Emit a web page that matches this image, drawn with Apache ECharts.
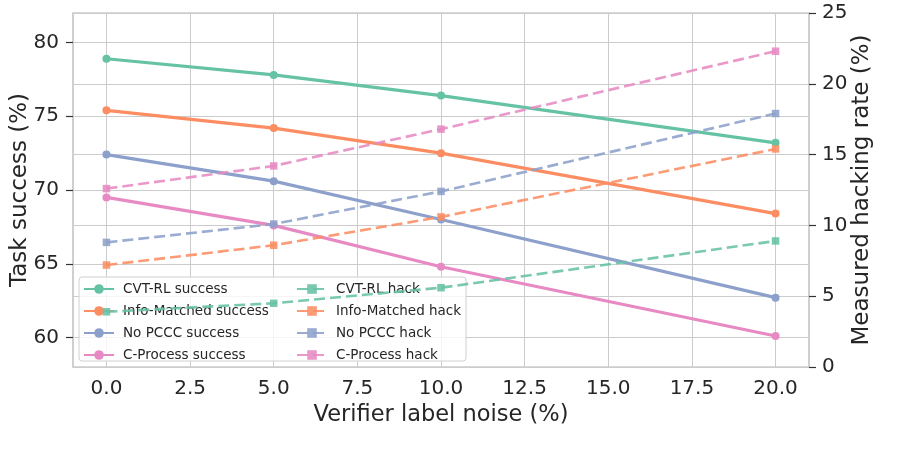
<html>
<head>
<meta charset="utf-8">
<script src="https://cdn.jsdelivr.net/npm/echarts@6/dist/echarts.min.js"></script>
<style>
  html, body { margin: 0; padding: 0; background: #fff; }
  #main { width: 908px; height: 462px; }
</style>
</head>
<body>
<div id="main"></div>
<script>
// noise levels (%)
var noise = [0, 5, 10, 20];

// task success (%), left axis
var cvtSuccess = [78.9, 77.8, 76.4, 73.2];
var infoSuccess = [75.4, 74.2, 72.5, 68.4];
var noPcccSuccess = [72.4, 70.6, 68.0, 62.7];
var cprocSuccess = [69.5, 67.6, 64.8, 60.1];

// measured hacking rate (%), right axis
var cvtHack = [3.9, 4.5, 5.6, 8.9];
var infoHack = [7.2, 8.6, 10.6, 15.4];
var noPcccHack = [8.8, 10.1, 12.4, 17.9];
var cprocHack = [12.6, 14.2, 16.8, 22.3];

var xTicks = [0, 2.5, 5, 7.5, 10, 12.5, 15, 17.5, 20];
var leftTicks = [60, 65, 70, 75, 80];

var successNames = ['CVT-RL success', 'Info-Matched success', 'No PCCC success', 'C-Process success'];
var hackNames = ['CVT-RL hack', 'Info-Matched hack', 'No PCCC hack', 'C-Process hack'];
var colors = ['#66c2a5', '#fc8d62', '#8da0cb', '#e78ac3'];

var FONT = '"DejaVu Sans", sans-serif';
var TEXT = '#262626';
var GRID = '#cccccc';

function pairs(ys) {
    return noise.map(function (x, i) { return [x, ys[i]]; });
}

function successSeries(name, ys, color) {
    return {
        name: name,
        type: 'line',
        yAxisIndex: 0,
        data: pairs(ys),
        symbol: 'circle',
        symbolSize: 8,
        z: 2,
        lineStyle: { color: color, width: 3.2 },
        itemStyle: { color: color }
    };
}

function hackSeries(name, ys, color) {
    return {
        name: name,
        type: 'line',
        yAxisIndex: 1,
        data: pairs(ys),
        symbol: 'rect',
        symbolSize: 7.5,
        z: 5,
        lineStyle: { color: color, width: 2.6, type: [11, 5], opacity: 0.88 },
        itemStyle: { color: color, opacity: 0.88 }
    };
}

var series = [];
for (var i = 0; i < 4; i++) {
    series.push(successSeries(successNames[i], [cvtSuccess, infoSuccess, noPcccSuccess, cprocSuccess][i], colors[i]));
}
for (var j = 0; j < 4; j++) {
    series.push(hackSeries(hackNames[j], [cvtHack, infoHack, noPcccHack, cprocHack][j], colors[j]));
}

var chart = echarts.init(document.getElementById('main'), null, { renderer: 'canvas' });

var legendBase = {
    orient: 'vertical',
    top: 282,
    padding: 0,
    itemWidth: 30,
    itemHeight: 12,
    itemGap: 8,
    z: 4,
    textStyle: { fontFamily: FONT, fontSize: 13.5, color: TEXT, padding: [0, 0, 0, 4] }
};

chart.setOption({
    animation: false,
    color: colors,
    grid: {
        left: 73, right: 99, top: 13, bottom: 95,
        outerBoundsMode: 'none',
        containLabel: false,
        show: true,
        borderColor: GRID,
        borderWidth: 1.5,
        backgroundColor: 'transparent'
    },
    graphic: [{
        type: 'rect',
        z: 3,
        shape: { x: 79, y: 277, width: 387, height: 84, r: 3 },
        style: { fill: 'rgba(255,255,255,0.8)', stroke: '#d0d0d0', lineWidth: 1 }
    }],
    legend: [
        Object.assign({}, legendBase, { left: 83, data: successNames }),
        Object.assign({}, legendBase, { left: 296, data: hackNames })
    ],
    xAxis: {
        type: 'value',
        min: -1,
        max: 21,
        name: 'Verifier label noise (%)',
        nameLocation: 'middle',
        nameGap: 37,
        nameMoveOverlap: false,
        nameTextStyle: { fontFamily: FONT, fontSize: 22.5, color: TEXT },
        axisLine: { show: false, onZero: false },
        axisTick: { show: false, customValues: xTicks },
        axisLabel: {
            customValues: xTicks,
            margin: 12,
            fontFamily: FONT, fontSize: 20, color: TEXT,
            formatter: function (v) { return v.toFixed(1); }
        },
        splitLine: { show: true, lineStyle: { color: GRID, width: 1 } }
    },
    yAxis: [
        {
            type: 'value',
            position: 'left',
            min: 58,
            max: 82,
            name: 'Task success (%)',
            nameLocation: 'middle',
            nameRotate: 90,
            nameGap: 41,
            nameMoveOverlap: false,
            nameTextStyle: { fontFamily: FONT, fontSize: 23, color: TEXT },
            axisLine: { show: true, onZero: false, lineStyle: { color: GRID, width: 1.5 } },
            axisTick: { show: true, length: 7, customValues: leftTicks, lineStyle: { color: '#333', width: 1.2 } },
            axisLabel: { customValues: leftTicks, margin: 14, fontFamily: FONT, fontSize: 20, color: TEXT },
            splitLine: { show: true, lineStyle: { color: GRID, width: 1 } }
        },
        {
            type: 'value',
            position: 'right',
            min: 0,
            max: 25,
            interval: 5,
            name: 'Measured hacking rate (%)',
            nameLocation: 'middle',
            nameRotate: 90,
            nameGap: 42,
            nameMoveOverlap: false,
            nameTextStyle: { fontFamily: FONT, fontSize: 23, color: TEXT },
            axisLine: { show: true, onZero: false, lineStyle: { color: GRID, width: 1.5 } },
            axisTick: { show: true, length: 7, lineStyle: { color: '#333', width: 1.2 } },
            axisLabel: { margin: 13, fontFamily: FONT, fontSize: 20, color: TEXT },
            splitLine: { show: true, lineStyle: { color: GRID, width: 1 } }
        }
    ],
    series: series
});
</script>
</body>
</html>
